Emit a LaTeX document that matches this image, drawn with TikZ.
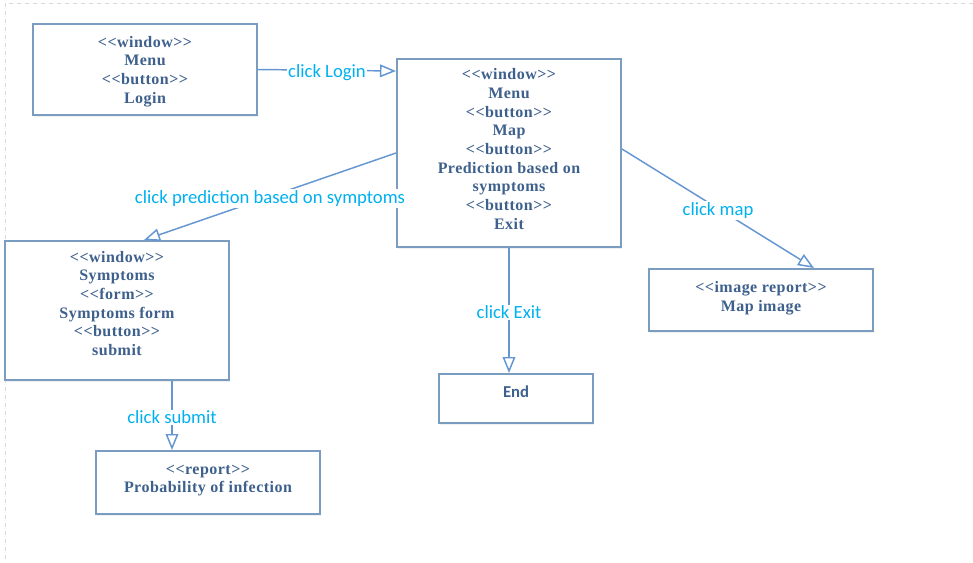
\documentclass[tikz,border=0pt]{standalone}
\usepackage{fontspec}
\setmainfont{Liberation Serif}
\newfontfamily\boxfont[LetterSpace=3]{Liberation Serif}
\newfontfamily\lblfont{Carlito}
\usetikzlibrary{arrows.meta,calc,shadows}
\definecolor{boxtext}{HTML}{3E608C}
\definecolor{boxborder}{HTML}{7A9CC0}
\definecolor{linecol}{HTML}{6496D2}
\definecolor{lblcol}{HTML}{00B0F0}
\definecolor{framecol}{HTML}{D9D9D9}
\begin{document}
\begin{tikzpicture}[x=0.75pt,y=-0.75pt,
  box/.style={draw=boxborder, line width=1.5pt, fill=white, rectangle, inner sep=0pt,
    drop shadow={opacity=0.12, shadow xshift=1pt, shadow yshift=-1.5pt}},
  txt/.style={text=boxtext, font=\boxfont\bfseries\fontsize{12}{14}\selectfont, align=center, inner sep=0pt},
  endtxt/.style={text=boxtext, font=\lblfont\bfseries\fontsize{12.5}{14}\selectfont, inner sep=0pt},
  conn/.style={draw=linecol, line width=1.1pt, -{Triangle[open, length=12pt, width=9.5pt, fill=white]}},
  lbl/.style={fill=white, text=lblcol, font=\lblfont\fontsize{14}{16}\selectfont, inner sep=1pt, yshift=-1.5pt}]
\useasboundingbox (0,0) rectangle (973,562);
\draw[framecol, dashed, line width=0.6pt] (973,3) -- (5,3) -- (5,562);

\node[box, minimum width=168pt, minimum height=68.25pt,
  label={[txt,yshift=-1.5pt]center:{{<}{<}window{>}{>}\\Menu\\{<}{<}button{>}{>}\\Login}}] (A) at (145,69.5) {};
\node[box, minimum width=168pt, minimum height=141pt,
  label={[txt,yshift=3pt]center:{{<}{<}window{>}{>}\\Menu\\{<}{<}button{>}{>}\\Map\\{<}{<}button{>}{>}\\Prediction based on\\symptoms\\{<}{<}button{>}{>}\\Exit}}] (B) at (509,153) {};
\node[box, minimum width=168pt, minimum height=104.25pt,
  label={[txt,yshift=5.25pt]center:{{<}{<}window{>}{>}\\Symptoms\\{<}{<}form{>}{>}\\Symptoms form\\{<}{<}button{>}{>}\\submit}}] (C) at (117,310.5) {};
\node[box, minimum width=168pt, minimum height=47.25pt,
  label={[txt,yshift=1.5pt]center:{{<}{<}report{>}{>}\\Probability of infection}}] (D) at (208,482.5) {};
\node[box, minimum width=115.5pt, minimum height=36.75pt,
  label={[endtxt,yshift=5.25pt]center:End}] (E) at (516,398.5) {};
\node[box, minimum width=168pt, minimum height=46.5pt,
  label={[txt,yshift=1.5pt]center:{{<}{<}image report{>}{>}\\Map image}}] (F) at (761,300) {};

\draw[conn] (A.east) -- node[lbl]{click Login} ($(B.north west)+(0,13)$);
\draw[conn] (B.west) -- node[lbl]{click prediction based on symptoms} ($(C.north west)+(140,0)$);
\draw[conn] ($(B.north east)+(0,91)$) -- node[lbl]{click map} ($(F.north west)+(166,0)$);
\draw[conn] (B.south) -- node[lbl]{click Exit} (B.south |- E.north);
\draw[conn] ($(C.south west)+(168,0)$) coordinate (cs) -- node[lbl]{click submit} (cs |- D.north);
\end{tikzpicture}
\end{document}
